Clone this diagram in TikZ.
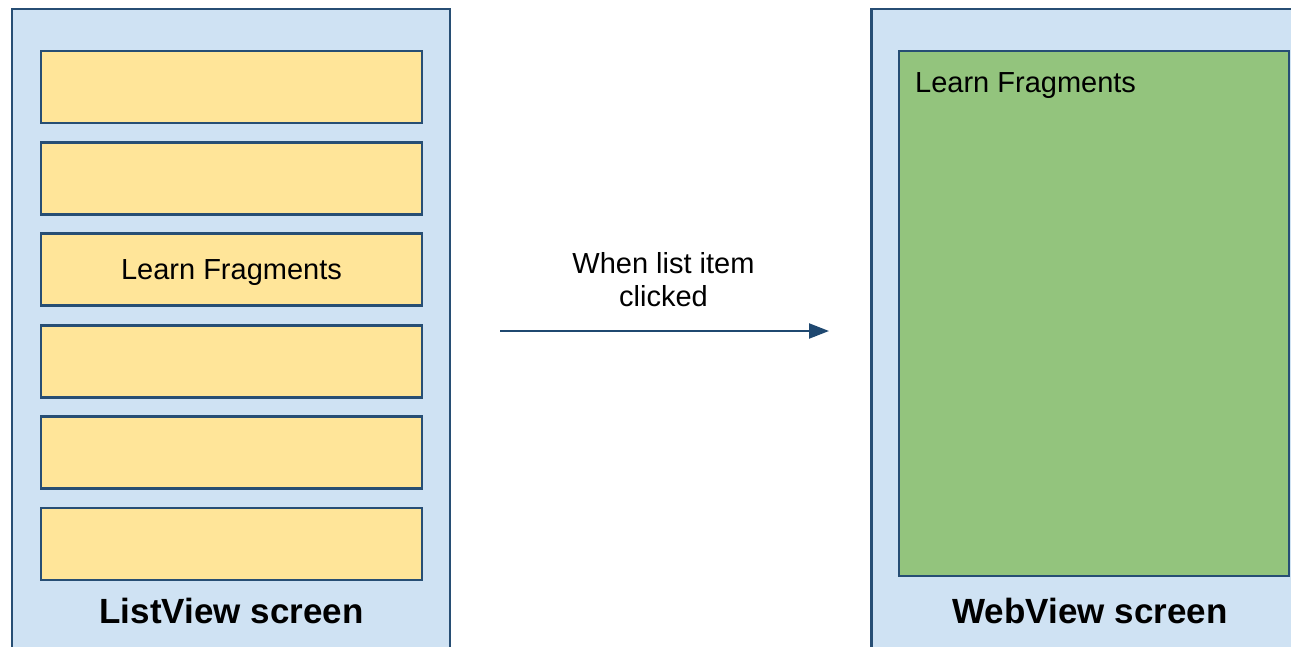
\documentclass[tikz,border=0pt]{standalone}
\usepackage{fontspec}
\setmainfont{Liberation Sans}
\usetikzlibrary{arrows.meta}

\definecolor{screenblue}{HTML}{CFE2F3}
\definecolor{itemyellow}{HTML}{FFE599}
\definecolor{pagegreen}{HTML}{93C47D}
\definecolor{edgenavy}{HTML}{274E74}
\definecolor{arrownavy}{HTML}{1F4870}

\begin{document}
\begin{tikzpicture}[
  x=1pt, y=-1pt,
  font=\fontsize{29}{33}\selectfont,
  screen/.style={draw=edgenavy, line width=2.8pt, fill=screenblue,
                 minimum width=438pt, minimum height=671pt, inner sep=0pt},
  listitem/.style={draw=edgenavy, line width=2.8pt, fill=itemyellow,
                   minimum width=381pt, minimum height=72pt, inner sep=0pt},
  page/.style={draw=edgenavy, line width=2.8pt, fill=pagegreen,
               minimum width=390pt, minimum height=525pt, inner sep=0pt},
  caption/.style={font=\fontsize{35}{40}\selectfont\bfseries, anchor=base},
  flow/.style={draw=arrownavy, line width=2.2pt, -{Triangle[length=20pt,width=15pt]}}
]
\clip (0,0) rectangle (1291,646);
\fill[white] (0,0) rectangle (1291,646);

% list screen
\node[screen] (lst) at (231,344.5) {};
\foreach \i in {1,...,6}
  \node[listitem] (item\i) at (231.5,{87+(\i-1)*91.4}) {};
\node[yshift=-3pt] at (item3) {Learn Fragments};
\node[caption] (lstname) at (231.5,623) {ListView screen};

% web screen
\node[screen] (web) at (1090.5,344.5) {};
\node[page] (pg) at (1094,313.5) {};
\node[anchor=base west, inner sep=0pt] (pgtitle) at (915,92) {Learn Fragments};
\node[caption] (webname) at (1090,623) {WebView screen};

% click arrow
\coordinate (tap) at (500,331);
\coordinate (open) at (829,331);
\draw[flow] (tap) -- (open);
\node[align=center] (why) at (663.5,280) {When list item\\clicked};
\end{tikzpicture}
\end{document}
